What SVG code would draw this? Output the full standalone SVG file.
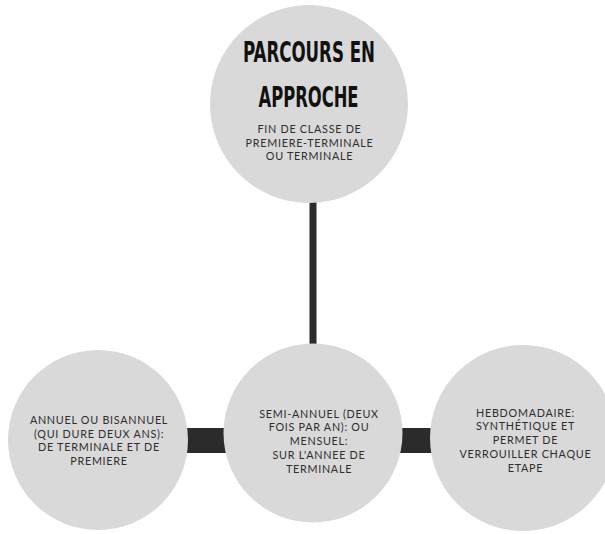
<svg xmlns="http://www.w3.org/2000/svg" width="605" height="534" viewBox="0 0 605 534">
<style>
.node{fill:#d9d9d9}
.conn{fill:#2b2b2b}
.t{font-family:Lato,"Open Sans","Liberation Sans",sans-serif;font-size:10.8px;fill:#2e2e2e;text-anchor:middle;letter-spacing:0.72px}
.title{font-family:"Liberation Sans Narrow","DejaVu Sans Condensed","Liberation Sans",sans-serif;font-weight:bold;font-size:28px;fill:#111;text-anchor:middle}
</style>
<rect width="605" height="534" fill="#ffffff"/>
<g id="connectors">
<rect class="conn" x="309.5" y="190" width="7" height="165"/>
<rect class="conn" x="180" y="428" width="52" height="25"/>
<rect class="conn" x="394" y="428" width="46" height="25"/>
</g>
<g id="node-top">
<circle class="node" cx="309" cy="104" r="99"/>
<text class="title" x="309" y="62" textLength="132" lengthAdjust="spacingAndGlyphs">PARCOURS EN</text>
<text class="title" x="308.5" y="107.3" textLength="100" lengthAdjust="spacingAndGlyphs">APPROCHE</text>
<text class="t" x="309.5" y="132.7">FIN DE CLASSE DE</text>
<text class="t" x="309.5" y="146.5">PREMIERE-TERMINALE</text>
<text class="t" x="309.5" y="160.3">OU TERMINALE</text>
</g>
<g id="node-left">
<circle class="node" cx="98" cy="440" r="90"/>
<text class="t" x="99" y="424">ANNUEL OU BISANNUEL</text>
<text class="t" x="99" y="437.7">(QUI DURE DEUX ANS):</text>
<text class="t" x="99" y="451.4">DE TERMINALE ET DE</text>
<text class="t" x="99" y="465.1">PREMIERE</text>
</g>
<g id="node-middle">
<circle class="node" cx="313" cy="433" r="89.5"/>
<text class="t" x="319" y="417.7">SEMI-ANNUEL (DEUX</text>
<text class="t" x="319" y="431.4">FOIS PAR AN): OU</text>
<text class="t" x="319" y="445.1">MENSUEL:</text>
<text class="t" x="319" y="458.8">SUR L'ANNEE DE</text>
<text class="t" x="319" y="472.5">TERMINALE</text>
</g>
<g id="node-right">
<circle class="node" cx="523" cy="438" r="93"/>
<text class="t" x="525.5" y="416.7">HEBDOMADAIRE:</text>
<text class="t" x="525.5" y="430.4">SYNTHÉTIQUE ET</text>
<text class="t" x="525.5" y="444.1">PERMET DE</text>
<text class="t" x="525.5" y="457.8">VERROUILLER CHAQUE</text>
<text class="t" x="525.5" y="471.5">ETAPE</text>
</g>
</svg>
